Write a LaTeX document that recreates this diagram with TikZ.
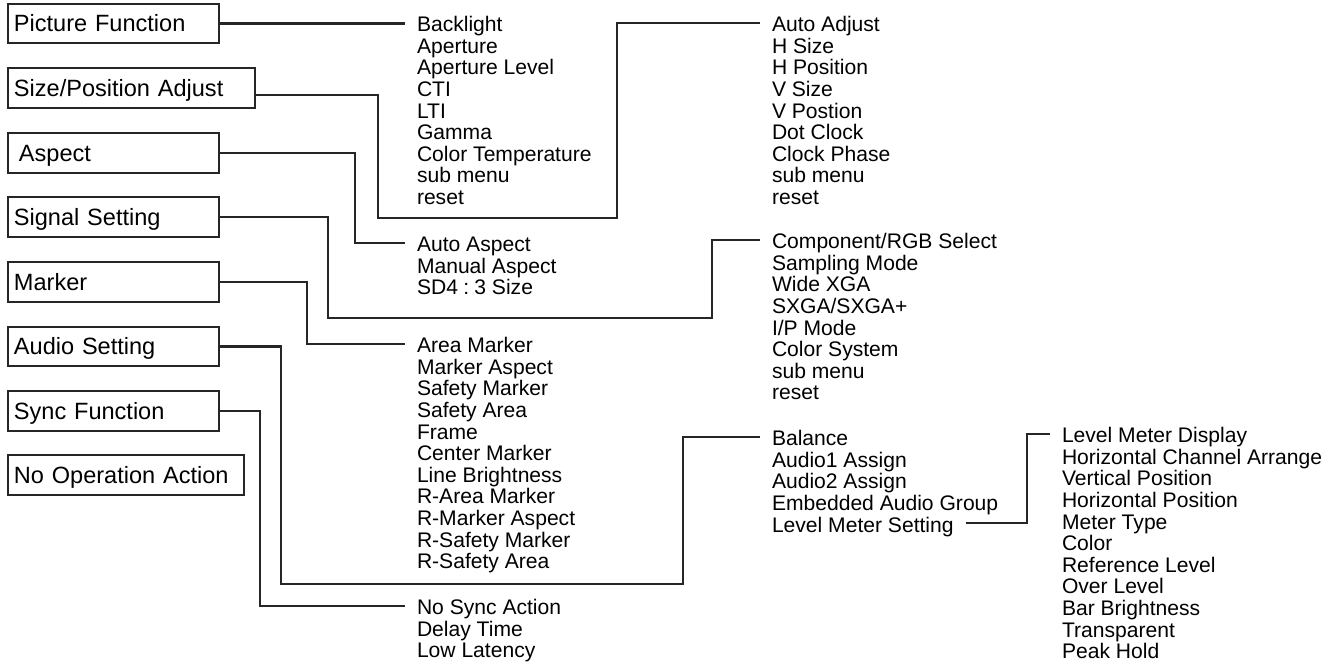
\documentclass[tikz,border=0pt]{standalone}
\usepackage{fontspec}
\setmainfont{Liberation Sans}
\usetikzlibrary{calc}
\tikzset{
  menubox/.style={draw=black!85,line width=1.1pt,minimum height=0.79cm,inner xsep=0.12cm,
                  text width=#1,align=left,anchor=west,
                  text height=9.6pt,text depth=0pt,
                  font=\fontsize{13.4}{15}\selectfont},
  menubox/.default=3.98cm,
  item/.style={inner sep=0pt,outer xsep=0.24cm,anchor=west,
               text height=10pt,text depth=0pt,
               font=\fontsize{12}{12.3}\selectfont},
  link/.style={draw=black!85,line width=1.2pt},
}
\newcommand{\menulist}[4]{%
  \foreach \txt [count=\k] in {#4}{
    \node[item] (#1-\k) at (#2,{#3+(\k-1)*21.6}) {\txt};
  }}

\begin{document}
\begin{tikzpicture}[x=0.02cm,y=-0.02cm]
  \useasboundingbox (0,0) rectangle (1339,664);
  % top level menu
  \node[menubox]        (pic) at (7,23.5)  {Picture Function};
  \node[menubox=4.70cm] (siz) at (7,88)    {Size/Position Adjust};
  \node[menubox]        (asp) at (7,153)   {\hspace{0.1cm}Aspect};
  \node[menubox]        (sig) at (7,217)   {Signal Setting};
  \node[menubox]        (mrk) at (7,282)   {Marker};
  \node[menubox]        (aud) at (7,346.5) {Audio Setting};
  \node[menubox]        (syn) at (7,411)   {Sync Function};
  \node[menubox=4.48cm] (nop) at (7,475)   {No Operation Action};
  % sub menus
  \menulist{picm}{405}{23}{Backlight,Aperture,Aperture Level,CTI,LTI,Gamma,
    Color Temperature,sub menu,reset}
  \menulist{sizm}{760}{23}{Auto Adjust,H Size,H Position,V Size,V Postion,
    Dot Clock,Clock Phase,sub menu,reset}
  \menulist{aspm}{405}{243}{Auto Aspect,Manual Aspect,SD4\kern3pt:\kern3pt3 Size}
  \menulist{sigm}{760}{240}{Component/RGB Select,Sampling Mode,Wide XGA,
    SXGA/SXGA+,I/P Mode,Color System,sub menu,reset}
  \menulist{mrkm}{405}{344}{Area Marker,Marker Aspect,Safety Marker,Safety Area,
    Frame,Center Marker,Line Brightness,R-Area Marker,R-Marker Aspect,
    R-Safety Marker,R-Safety Area}
  \menulist{audm}{760}{437}{Balance,Audio1 Assign,Audio2 Assign,
    Embedded Audio Group,Level Meter Setting}
  \menulist{synm}{405}{606}{No Sync Action,Delay Time,Low Latency}
  \menulist{lvlm}{1050}{434}{Level Meter Display,Horizontal Channel Arrange,
    Vertical Position,Horizontal Position,Meter Type,Color,Reference Level,
    Over Level,Bar Brightness,Transparent,Peak Hold}
  % connectors
  \draw[link] (pic.east) -- (pic.east -| picm-1.west);
  \draw[link] ($(siz.east)+(0,7)$) -| (378,218) -| (617,23) -- (sizm-1.west);
  \draw[link] (asp.east) -- ++(135,0) |- (aspm-1.west);
  \draw[link] (sig.east) -| (328,318) -| (712,240) -- (sigm-1.west);
  \draw[link] (mrk.east) -- ++(87,0) |- (mrkm-1.west);
  \draw[link] (aud.east) -| (281,584) -| (683,437) -- (audm-1.west);
  \draw[link] (syn.east) -- ++(40,0) |- (synm-1.west);
  \draw[link] (audm-5.east) -- ++(61,0) |- (lvlm-1.west);
\end{tikzpicture}
\end{document}
